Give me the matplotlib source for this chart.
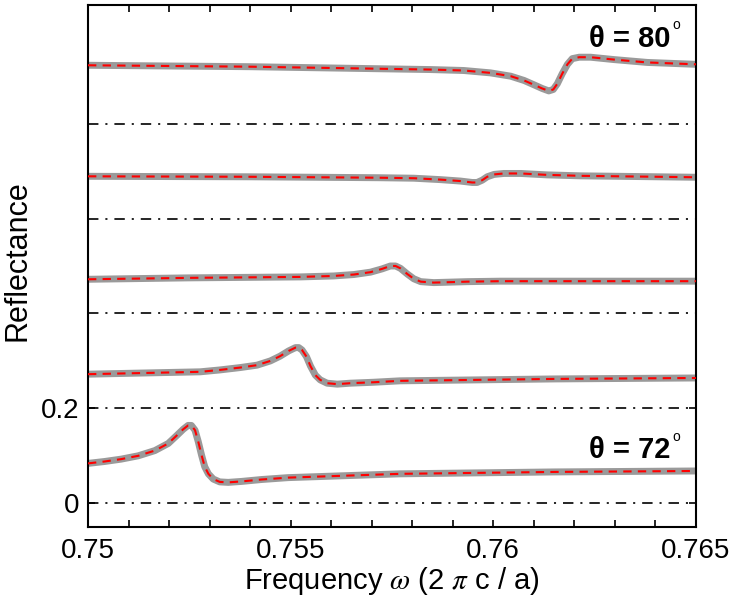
#!/usr/bin/env python3
"""Stacked reflectance spectra for incidence angles 72..80 degrees."""

import matplotlib
matplotlib.use("Agg")
import matplotlib.pyplot as plt

plt.rcParams["font.family"] = ["Liberation Sans", "DejaVu Sans"]
plt.rcParams["mathtext.fontset"] = "stix"
plt.rcParams["lines.scale_dashes"] = False

# reflectance, one curve per angle (bottom to top)
freq_72 = [0.7500, 0.75041, 0.75082, 0.75124, 0.75165, 0.75198, 0.75218, 0.75235,
           0.75247, 0.75255, 0.75264, 0.75272, 0.75280, 0.75288, 0.75297, 0.75309,
           0.75325, 0.75346, 0.75379, 0.75428, 0.75494, 0.7577, 0.7615, 0.7650]
refl_72 = [0.084, 0.088, 0.093, 0.100, 0.111, 0.126, 0.142, 0.156,
           0.164, 0.164, 0.154, 0.130, 0.102, 0.077, 0.062, 0.051,
           0.045, 0.044, 0.046, 0.050, 0.054, 0.062, 0.066, 0.068]

freq_74 = [0.7500, 0.75277, 0.75326, 0.75376, 0.75417, 0.7545, 0.75474, 0.75495,
           0.75512, 0.7552, 0.75528, 0.75539, 0.75549, 0.75561, 0.75573, 0.7559,
           0.75615, 0.75647, 0.75705, 0.7577, 0.7615, 0.7650]
refl_74 = [0.072, 0.077, 0.081, 0.086, 0.091, 0.100, 0.110, 0.121,
           0.128, 0.128, 0.123, 0.109, 0.089, 0.070, 0.060, 0.053,
           0.051, 0.053, 0.055, 0.058, 0.062, 0.064]

freq_76 = [0.7500, 0.7525, 0.75524, 0.75606, 0.75656, 0.75697, 0.75726, 0.75746,
           0.75759, 0.75771, 0.75788, 0.75804, 0.75821, 0.75853, 0.75936, 0.76018,
           0.7650]
refl_76 = [0.072, 0.075, 0.077, 0.079, 0.082, 0.087, 0.094, 0.100,
           0.100, 0.095, 0.083, 0.073, 0.067, 0.065, 0.067, 0.068,
           0.068]

freq_78 = [0.7500, 0.7540, 0.75722, 0.75804, 0.7587, 0.75919, 0.75948, 0.7596,
           0.75973, 0.75985, 0.76002, 0.76026, 0.76068, 0.76133, 0.76216, 0.7650]
refl_78 = [0.089, 0.088, 0.086, 0.085, 0.082, 0.079, 0.076, 0.076,
           0.081, 0.088, 0.093, 0.095, 0.095, 0.092, 0.090, 0.087]

freq_80 = [0.7500, 0.7540, 0.75845, 0.75927, 0.75993, 0.76043, 0.76076, 0.7610,
           0.76121, 0.76137, 0.76148, 0.76158, 0.7617, 0.76183, 0.76195, 0.76212,
           0.7624, 0.76298, 0.7638, 0.7650]
refl_80 = [0.123, 0.120, 0.114, 0.112, 0.107, 0.100, 0.091, 0.082,
           0.074, 0.069, 0.072, 0.084, 0.105, 0.125, 0.137, 0.140,
           0.140, 0.135, 0.129, 0.125]

curves = [(freq_72, refl_72), (freq_74, refl_74), (freq_76, refl_76),
          (freq_78, refl_78), (freq_80, refl_80)]
offset_step = 0.2

x_major = [0.75, 0.755, 0.76, 0.765]
x_labels = ["0.75", "0.755", "0.76", "0.765"]
y_ticks = [0, 0.2]
y_labels = ["0", "0.2"]

angle_labels = ["θ = 80", "θ = 72"]
angle_label_y = [0.979, 0.112]


def main() -> None:
    fig = plt.figure(figsize=(7.31, 5.97), dpi=100)
    ax = fig.add_axes([0.1204, 0.1173, 0.8316, 0.8743])

    for i, (f, r) in enumerate(curves):
        off = i * offset_step
        ax.axhline(off, color="black", lw=1.2, linestyle=(0, (7.5, 5, 1.5, 5)), zorder=1)
        y = [v + off for v in r]
        ax.plot(f, y, color="#9a9a9a", lw=5, solid_capstyle="round",
                solid_joinstyle="round", zorder=2)
        ax.plot(f, y, color="red", lw=1.5, linestyle=(0, (6, 4.5)), zorder=3)

    ax.set_xlim(0.75, 0.765)
    ax.set_ylim(-0.05, 1.05)
    ax.set_xticks(x_major)
    ax.set_xticklabels(x_labels)
    ax.set_xticks([0.75 + 0.001 * k for k in range(16)], minor=True)
    ax.set_yticks(y_ticks)
    ax.set_yticklabels(y_labels)
    ax.tick_params(which="both", direction="in", top=True, right=True,
                   length=5, width=1.2, labelsize=20, pad=8)
    ax.tick_params(axis="y", pad=6)

    for side in ax.spines.values():
        side.set_linewidth(1.5)

    ax.set_xlabel(r"Frequency $\omega$ (2 $\pi$ c / a)", fontsize=21, labelpad=1)
    ax.set_ylabel("Reflectance", fontsize=22)
    ax.yaxis.set_label_coords(-0.092, 0.51)

    # angle labels with a raised degree circle
    for text, ty in zip(angle_labels, angle_label_y):
        ax.text(0.76438, ty, text, fontsize=21, fontweight="bold",
                ha="right", va="center")
        ax.text(0.76442, ty + 0.028, "o", fontsize=10, ha="left", va="center")

    fig.savefig("out.png", dpi=100)


if __name__ == "__main__":
    main()
